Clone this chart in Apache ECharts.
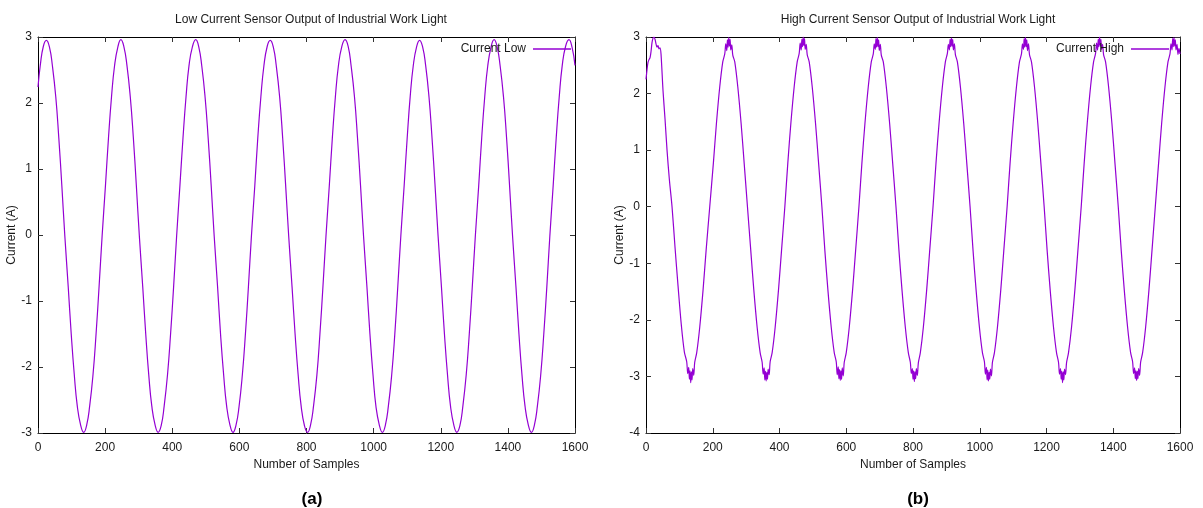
<!DOCTYPE html>
<html>
<head>
<meta charset="utf-8">
<title>Current Sensor Output</title>
<script src="https://cdn.jsdelivr.net/npm/echarts@6/dist/echarts.min.js"></script>
<style>
  html, body { margin: 0; padding: 0; background: #fff; }
  #main { width: 1203px; height: 508px; }
</style>
</head>
<body>
<div id="main"></div>
<script>
// x ticks shared by both plots
var sampleTicks = [0, 200, 400, 600, 800, 1000, 1200, 1400, 1600];

// (a) low current sensor
var lowSamples = [
  0, 7, 16,
  25, 34, 43, 53, 62, 71, 80, 90, 99, 108, 117, 127, 136, 145, 154, 164, 173, 182, 191, 201, 210, 219, 228, 238,
  247, 256, 265, 275, 284, 293, 302, 312, 321, 330, 339, 349, 358, 367, 376, 386, 395, 404, 413, 423, 432, 441, 450, 460,
  470, 479, 488, 498, 507, 516, 525, 535, 544, 553, 562, 572, 581, 590, 599, 609, 618, 627, 636, 646, 655, 664, 673, 683,
  692, 701, 710, 720, 729, 738, 747, 757, 766, 775, 784, 794, 803, 812, 821, 831, 840, 849, 858, 868, 877, 886, 895, 905,
  915, 924, 933, 943, 952, 961, 970, 980, 989, 998, 1007, 1017, 1026, 1035, 1044, 1054, 1063, 1072, 1081, 1091, 1100, 1109, 1118, 1128,
  1137, 1146, 1155, 1165, 1174, 1183, 1192, 1202, 1211, 1220, 1229, 1239, 1248, 1257, 1266, 1276, 1285, 1294, 1303, 1313, 1322, 1331, 1340, 1350,
  1359, 1368, 1377, 1387, 1396, 1405, 1414, 1424, 1433, 1442, 1451, 1461, 1470, 1479, 1488, 1498, 1507, 1516, 1525, 1535, 1544, 1553, 1562, 1572,
  1582, 1591, 1600
];
var lowCurrent = [
  2.24, 2.58, 2.86,
  2.95, 2.85, 2.56, 2.09, 1.47, 0.75, -0.02, -0.78, -1.50, -2.11, -2.59, -2.88, -2.99, -2.88, -2.59, -2.11, -1.50, -0.78, -0.02, 0.75, 1.47, 2.09, 2.56, 2.85,
  2.96, 2.85, 2.57, 2.09, 1.48, 0.75, -0.02, -0.78, -1.50, -2.12, -2.59, -2.88, -2.99, -2.89, -2.59, -2.11, -1.50, -0.79, -0.02, 0.76, 1.47, 2.09, 2.57, 2.85,
  2.96, 2.85, 2.56, 2.08, 1.47, 0.75, -0.02, -0.78, -1.51, -2.11, -2.59, -2.88, -2.99, -2.88, -2.60, -2.11, -1.50, -0.78, -0.01, 0.75, 1.48, 2.09, 2.56, 2.86,
  2.95, 2.85, 2.56, 2.09, 1.47, 0.74, -0.02, -0.79, -1.50, -2.11, -2.59, -2.89, -2.99, -2.88, -2.59, -2.12, -1.50, -0.78, -0.02, 0.75, 1.47, 2.09, 2.56, 2.85,
  2.96, 2.86, 2.56, 2.09, 1.47, 0.75, -0.02, -0.78, -1.50, -2.11, -2.60, -2.88, -2.99, -2.88, -2.59, -2.11, -1.51, -0.78, -0.02, 0.75, 1.47, 2.10, 2.56, 2.85,
  2.95, 2.85, 2.57, 2.09, 1.47, 0.75, -0.01, -0.78, -1.50, -2.11, -2.59, -2.88, -2.99, -2.89, -2.59, -2.11, -1.50, -0.78, -0.02, 0.74, 1.47, 2.09, 2.56, 2.85,
  2.96, 2.85, 2.56, 2.09, 1.48, 0.75, -0.02, -0.78, -1.50, -2.12, -2.59, -2.88, -2.99, -2.88, -2.59, -2.11, -1.50, -0.79, -0.02, 0.75, 1.47, 2.09, 2.57, 2.86,
  2.96, 2.85, 2.57
];

// (b) high current sensor, noisy around the peaks and troughs
var highSamples = [
  0, 3, 6, 9, 12, 15, 18, 21, 24, 27, 30, 33, 36, 39, 42, 45,
  51, 57, 63, 70, 78, 87, 96, 106, 115,
  122, 125, 128, 130, 132, 134, 136, 138, 140, 143, 146,
  152, 161, 171, 180, 191, 202, 211, 221, 230,
  236, 239, 242, 244, 246, 248, 250, 252, 254, 257, 260,
  266, 275, 285, 294, 304, 314, 323, 333, 342,
  348, 351, 354, 356, 358, 360, 362, 364, 366, 369, 372,
  378, 387, 397, 406, 416, 425, 434, 444, 453,
  459, 462, 465, 467, 469, 471, 473, 475, 477, 480, 483,
  489, 498, 508, 517, 527, 536, 545, 555, 564,
  570, 573, 576, 578, 580, 582, 584, 586, 588, 591, 594,
  600, 609, 619, 628, 638, 647, 656, 666, 675,
  681, 684, 687, 689, 691, 693, 695, 697, 699, 702, 705,
  711, 720, 730, 739, 749, 758, 767, 777, 786,
  792, 795, 798, 800, 802, 804, 806, 808, 810, 813, 816,
  822, 831, 841, 850, 860, 869, 878, 888, 897,
  903, 906, 909, 911, 913, 915, 917, 919, 921, 924, 927,
  933, 942, 952, 961, 971, 980, 989, 999, 1008,
  1014, 1017, 1020, 1022, 1024, 1026, 1028, 1030, 1032, 1035, 1038,
  1044, 1053, 1063, 1072, 1082, 1091, 1100, 1110, 1119,
  1125, 1128, 1131, 1133, 1135, 1137, 1139, 1141, 1143, 1146, 1149,
  1155, 1164, 1174, 1183, 1193, 1202, 1211, 1221, 1230,
  1236, 1239, 1242, 1244, 1246, 1248, 1250, 1252, 1254, 1257, 1260,
  1266, 1275, 1285, 1294, 1304, 1313, 1322, 1332, 1341,
  1347, 1350, 1353, 1355, 1357, 1359, 1361, 1363, 1365, 1368, 1371,
  1377, 1386, 1396, 1405, 1415, 1424, 1433, 1443, 1452,
  1458, 1461, 1464, 1466, 1468, 1470, 1472, 1474, 1476, 1479, 1482,
  1488, 1497, 1507, 1516, 1526, 1536, 1545, 1555, 1564,
  1570, 1573, 1576, 1578, 1580, 1582, 1584, 1586, 1588, 1591, 1594, 1597, 1600
];
var highCurrent = [
  2.25, 2.42, 2.55, 2.60, 2.63, 2.74, 2.90, 2.98, 3.00, 2.96, 2.88, 2.82, 2.85, 2.79, 2.81, 2.70,
  2.05, 1.55, 1.00, 0.48, 0.00, -0.72, -1.40, -2.10, -2.57,
  -2.74, -2.95, -2.84, -3.05, -2.90, -3.11, -2.92, -3.06, -2.86, -2.98, -2.75,
  -2.58, -2.13, -1.47, -0.78, 0.00, 0.78, 1.47, 2.12, 2.56,
  2.70, 2.88, 2.76, 2.95, 2.82, 2.99, 2.84, 2.96, 2.77, 2.86, 2.68,
  2.56, 2.12, 1.47, 0.78, 0.00, -0.78, -1.47, -2.13, -2.58,
  -2.75, -2.96, -2.85, -3.06, -2.91, -3.08, -2.93, -3.05, -2.87, -2.97, -2.74,
  -2.58, -2.13, -1.47, -0.78, 0.00, 0.78, 1.47, 2.12, 2.56,
  2.71, 2.89, 2.77, 2.96, 2.83, 3.00, 2.85, 2.97, 2.78, 2.87, 2.69,
  2.56, 2.12, 1.47, 0.78, 0.00, -0.78, -1.47, -2.13, -2.58,
  -2.74, -2.97, -2.83, -3.04, -2.88, -3.07, -2.90, -3.05, -2.85, -2.99, -2.75,
  -2.58, -2.13, -1.47, -0.78, 0.00, 0.78, 1.47, 2.12, 2.56,
  2.70, 2.88, 2.78, 2.97, 2.82, 2.99, 2.83, 2.95, 2.76, 2.87, 2.68,
  2.56, 2.12, 1.47, 0.78, 0.00, -0.78, -1.47, -2.13, -2.58,
  -2.75, -2.95, -2.86, -3.05, -2.90, -3.09, -2.92, -3.04, -2.86, -2.98, -2.76,
  -2.58, -2.13, -1.47, -0.78, 0.00, 0.78, 1.47, 2.12, 2.56,
  2.71, 2.87, 2.77, 2.96, 2.83, 2.98, 2.84, 2.96, 2.77, 2.88, 2.69,
  2.56, 2.12, 1.47, 0.78, 0.00, -0.78, -1.47, -2.13, -2.58,
  -2.74, -2.96, -2.84, -3.06, -2.89, -3.08, -2.93, -3.05, -2.87, -2.99, -2.75,
  -2.58, -2.13, -1.47, -0.78, 0.00, 0.78, 1.47, 2.12, 2.56,
  2.70, 2.88, 2.78, 2.97, 2.82, 2.99, 2.83, 2.95, 2.76, 2.88, 2.69,
  2.56, 2.12, 1.47, 0.78, 0.00, -0.78, -1.47, -2.13, -2.58,
  -2.75, -2.96, -2.86, -3.05, -2.91, -3.11, -2.92, -3.06, -2.87, -2.97, -2.76,
  -2.58, -2.13, -1.47, -0.78, 0.00, 0.78, 1.47, 2.12, 2.56,
  2.71, 2.89, 2.77, 2.96, 2.83, 3.00, 2.85, 2.96, 2.78, 2.87, 2.69,
  2.56, 2.12, 1.47, 0.78, 0.00, -0.78, -1.47, -2.13, -2.58,
  -2.74, -2.95, -2.85, -3.04, -2.90, -3.07, -2.91, -3.04, -2.86, -2.98, -2.75,
  -2.58, -2.13, -1.47, -0.78, 0.00, 0.78, 1.47, 2.12, 2.56,
  2.70, 2.88, 2.77, 2.97, 2.83, 2.99, 2.84, 2.95, 2.77, 2.87, 2.69, 2.80, 2.70
];

function pairs(xs, ys) {
  var out = [];
  for (var i = 0; i < xs.length; i++) {
    out.push([xs[i], ys[i]]);
  }
  return out;
}

var lineColor = '#9400d3';
var font = 'Liberation Sans, Arial, sans-serif';
var textColor = '#1a1a1a';

function xAxisFor(grid, bottom) {
  return {
    type: 'value',
    gridIndex: grid,
    position: bottom ? 'bottom' : 'top',
    min: sampleTicks[0],
    max: sampleTicks[sampleTicks.length - 1],
    interval: sampleTicks[1] - sampleTicks[0],
    name: bottom ? 'Number of Samples' : '',
    nameLocation: 'middle',
    nameGap: 22,
    nameTextStyle: { fontFamily: font, fontSize: 12, color: textColor },
    axisLine: { show: true, onZero: false, lineStyle: { color: '#000', width: 1 } },
    axisTick: { show: true, inside: true, length: 5, lineStyle: { color: '#333' } },
    axisLabel: {
      show: bottom,
      margin: 9,
      fontFamily: font,
      fontSize: 12,
      color: textColor,
      formatter: function (v) { return String(v); }
    },
    splitLine: { show: false }
  };
}

function yAxisFor(grid, left, min) {
  return {
    type: 'value',
    gridIndex: grid,
    position: left ? 'left' : 'right',
    min: min,
    max: 3,
    interval: 1,
    name: left ? 'Current (A)' : '',
    nameLocation: 'middle',
    nameGap: 20,
    nameRotate: 90,
    nameTextStyle: { fontFamily: font, fontSize: 12, color: textColor },
    axisLine: { show: true, onZero: false, lineStyle: { color: '#000', width: 1 } },
    axisTick: { show: true, inside: true, length: 5, lineStyle: { color: '#333' } },
    axisLabel: {
      show: left,
      margin: 6,
      fontFamily: font,
      fontSize: 12,
      color: textColor
    },
    splitLine: { show: false }
  };
}

var myChart = echarts.init(document.getElementById('main'), null, { renderer: 'canvas' });

var option = {
  animation: false,
  backgroundColor: '#fff',
  title: [
    {
      text: 'Low Current Sensor Output of Industrial Work Light',
      left: 306, top: 9, textAlign: 'center',
      textStyle: { fontFamily: font, fontSize: 12, fontWeight: 'normal', color: textColor }
    },
    {
      text: 'High Current Sensor Output of Industrial Work Light',
      left: 913, top: 9, textAlign: 'center',
      textStyle: { fontFamily: font, fontSize: 12, fontWeight: 'normal', color: textColor }
    },
    {
      text: '(a)',
      left: 307, top: 486, textAlign: 'center',
      textStyle: { fontFamily: font, fontSize: 17, fontWeight: 'bold', color: '#000' }
    },
    {
      text: '(b)',
      left: 913, top: 486, textAlign: 'center',
      textStyle: { fontFamily: font, fontSize: 17, fontWeight: 'bold', color: '#000' }
    }
  ],
  legend: [
    {
      data: ['Current Low'],
      right: 632, top: 43,
      padding: 0,
      align: 'right',
      icon: 'rect',
      itemWidth: 38, itemHeight: 1.5,
      textStyle: { fontFamily: font, fontSize: 12, color: textColor, padding: [0, 2, 0, 0] }
    },
    {
      data: ['Current High'],
      right: 34, top: 43,
      padding: 0,
      align: 'right',
      icon: 'rect',
      itemWidth: 38, itemHeight: 1.5,
      textStyle: { fontFamily: font, fontSize: 12, color: textColor, padding: [0, 2, 0, 0] }
    }
  ],
  grid: [
    { left: 38, top: 37, width: 537, height: 396 },
    { left: 646, top: 37, width: 534, height: 396 }
  ],
  xAxis: [
    xAxisFor(0, true),
    xAxisFor(0, false),
    xAxisFor(1, true),
    xAxisFor(1, false)
  ],
  yAxis: [
    yAxisFor(0, true, -3),
    yAxisFor(0, false, -3),
    yAxisFor(1, true, -4),
    yAxisFor(1, false, -4)
  ],
  series: [
    {
      name: 'Current Low',
      type: 'line',
      xAxisIndex: 0,
      yAxisIndex: 0,
      smooth: 0.5,
      showSymbol: false,
      color: lineColor,
      lineStyle: { width: 1.2, color: lineColor },
      data: pairs(lowSamples, lowCurrent)
    },
    {
      name: 'Current High',
      type: 'line',
      xAxisIndex: 2,
      yAxisIndex: 2,
      smooth: 0.3,
      showSymbol: false,
      color: lineColor,
      lineStyle: { width: 1.2, color: lineColor },
      data: pairs(highSamples, highCurrent)
    }
  ]
};

myChart.setOption(option);
</script>
</body>
</html>
